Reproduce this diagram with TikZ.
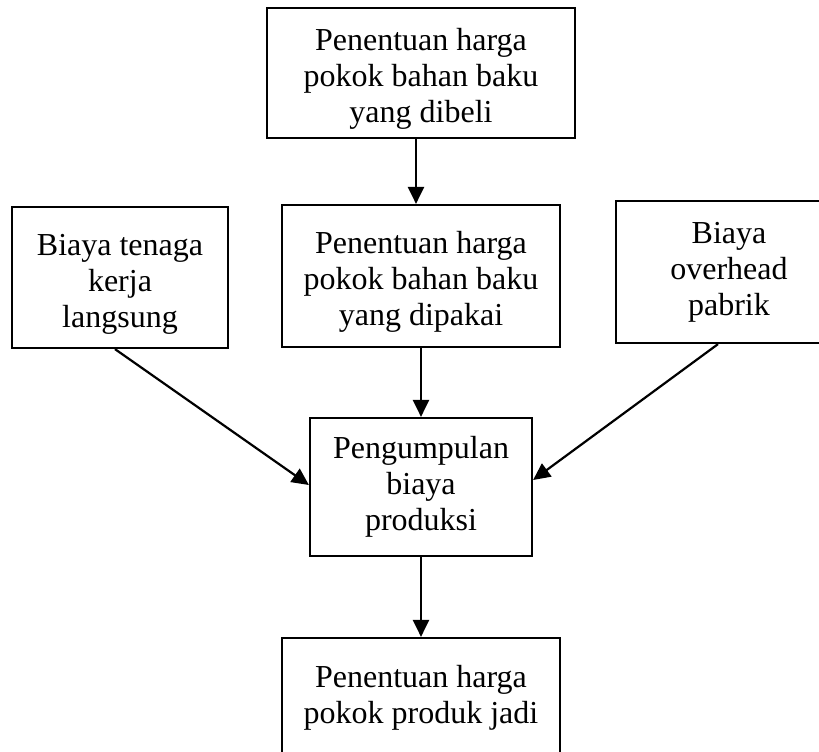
\documentclass[tikz,border=0pt]{standalone}
\usepackage{fontspec}
\setmainfont{Liberation Serif}
\usetikzlibrary{arrows.meta}

\newcommand{\sela}{\rule{0pt}{17pt}}

\begin{document}
\begin{tikzpicture}[x=0.5pt,y=-0.5pt,
    kotak/.style={draw, line width=1.1pt, align=center, inner sep=0pt,
        font=\fontsize{16}{18}\selectfont},
    panah/.style={-{Triangle[length=8.5pt,width=8pt]}, line width=1.1pt}]
    \useasboundingbox (0,0) rectangle (819,751);
    \clip (0,0) rectangle (819,751);

    \node[kotak, minimum width=154pt, minimum height=65pt] (beli) at (421,73) {\sela Penentuan harga\\pokok bahan baku\\yang dibeli};
    \node[kotak, minimum width=139pt, minimum height=71pt] (pakai) at (421,276) {\sela Penentuan harga\\pokok bahan baku\\yang dipakai};
    \node[kotak, minimum width=108pt, minimum height=70.5pt] (tenaga) at (120,277.5) {\sela Biaya tenaga\\kerja\\langsung};
    \node[kotak, minimum width=113pt, minimum height=71pt] (overhead) at (729,272) {Biaya\\overhead\\pabrik};
    \node[kotak, minimum width=111pt, minimum height=69pt] (kumpul) at (421,487) {Pengumpulan\\biaya\\produksi};
    \node[kotak, minimum width=139pt, minimum height=60pt] (jadi) at (421,698) {Penentuan harga\\pokok produk jadi};

    \draw[panah] ([xshift=-2.5pt]beli.south) -- ([xshift=-2.5pt]pakai.north);
    \draw[panah] (pakai.south) -- (kumpul.north);
    \draw[panah] ([xshift=-2.5pt]tenaga.south) -- ([yshift=1pt]kumpul.west);
    \draw[panah] ([xshift=-5.5pt]overhead.south) -- ([yshift=3.5pt]kumpul.east);
    \draw[panah] (kumpul.south) -- (jadi.north);
\end{tikzpicture}
\end{document}
